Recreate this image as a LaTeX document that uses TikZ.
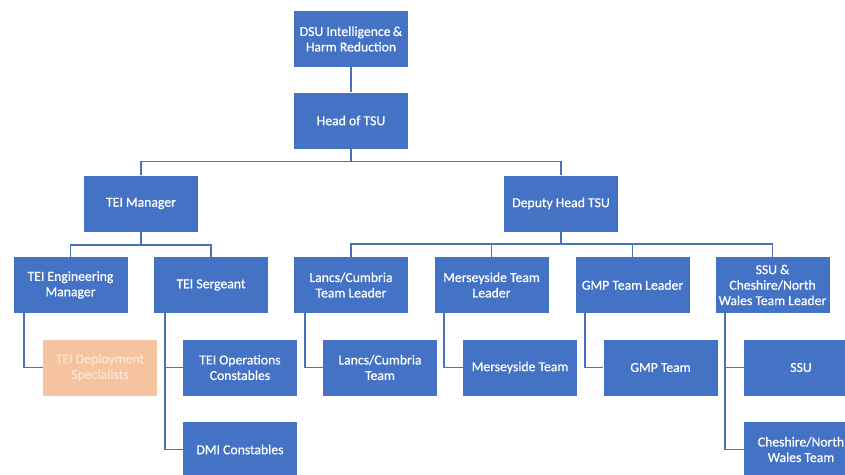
\documentclass[tikz,border=0pt]{standalone}
\usepackage{fontspec}
\setmainfont{Carlito}
\newfontface\semib{Carlito}[FakeBold=0.6]
\usetikzlibrary{calc}
\definecolor{boxblue}{HTML}{4472C4}
\definecolor{lineblue}{HTML}{4A72B8}
\definecolor{peach}{HTML}{F6C3A0}
\definecolor{peachtext}{HTML}{FCE6D6}
\begin{document}
\begin{tikzpicture}[x=1pt,y=1pt,
  orgbox/.style={rectangle, fill=boxblue, text=white, minimum width=114pt, minimum height=56pt,
    inner sep=0pt, align=center, font=\semib\fontsize{13.7}{15.5}\selectfont},
  peachbox/.style={orgbox, fill=peach, text=peachtext},
  conn/.style={draw=lineblue, line width=1.8pt}]
\clip (0,0) rectangle (845,-474);
\fill[white] (0,0) rectangle (845,-474);
% level 0-1
\node[orgbox] (dsu) at (351,-39) {DSU Intelligence\,\&\\Harm Reduction};
\node[orgbox] (tsu) at (351,-120.5) {Head of TSU};
% level 2
\node[orgbox] (teim) at (141,-203.5) {TEI Manager};
\node[orgbox] (dep) at (561,-203.5) {Deputy Head TSU};
% level 3
\node[orgbox] (teiem) at (70.5,-285) {TEI Engineering\\Manager};
\node[orgbox] (teis) at (211,-285) {TEI Sergeant};
\node[orgbox] (lctl) at (351,-285) {Lancs/Cumbria\\Team Leader};
\node[orgbox] (mtl) at (491.5,-285) {Merseyside Team\\Leader};
\node[orgbox] (gmptl) at (632.5,-285) {GMP Team Leader};
\node[orgbox] (ssutl) at (772.5,-285) {SSU \&\\Cheshire/North\\Wales Team Leader};
% level 4
\node[peachbox] (teids) at (100,-367.5) {TEI Deployment\\Specialists};
\node[orgbox] (teioc) at (240,-367.5) {TEI Operations\\Constables};
\node[orgbox] (dmi) at (240,-449.5) {DMI Constables};
\node[orgbox] (lct) at (380,-367.5) {Lancs/Cumbria\\Team};
\node[orgbox] (mt) at (520,-367.5) {Merseyside Team};
\node[orgbox] (gmpt) at (660.5,-367.5) {GMP Team};
\node[orgbox] (ssu) at (801,-367.5) {SSU};
\node[orgbox] (cnw) at (801,-449.5) {Cheshire/North\\Wales Team};
% connectors
\draw[conn] (dsu) -- (tsu);
\coordinate (b1) at (351,-161.5);
\draw[conn] (tsu) -- (b1);
\draw[conn] (teim.north) |- (b1) -| (dep.north);
\coordinate (b2) at (141,-245);
\draw[conn] (teim) -- (b2);
\draw[conn] (teiem.north) |- (b2) -| (teis.north);
\coordinate (b3) at (561,-244);
\draw[conn] (dep) -- (b3);
\draw[conn] (lctl.north) |- (b3) -| (ssutl.north);
\draw[conn] (mtl.north) -- (mtl.north |- b3);
\draw[conn] (gmptl.north) -- (gmptl.north |- b3);
% elbows
\draw[conn] ($(teiem.south west)+(11,0)$) |- (teids.west);
\draw[conn] ($(teis.south west)+(11,0)$) |- (dmi.west);
\draw[conn] ($(teis.south west)+(11,0)$) |- (teioc.west);
\draw[conn] ($(lctl.south west)+(11,0)$) |- (lct.west);
\draw[conn] ($(mtl.south west)+(10,0)$) |- (mt.west);
\draw[conn] ($(gmptl.south west)+(10,0)$) |- (gmpt.west);
\draw[conn] ($(ssutl.south west)+(10,0)$) |- (cnw.west);
\draw[conn] ($(ssutl.south west)+(10,0)$) |- (ssu.west);
\end{tikzpicture}
\end{document}
